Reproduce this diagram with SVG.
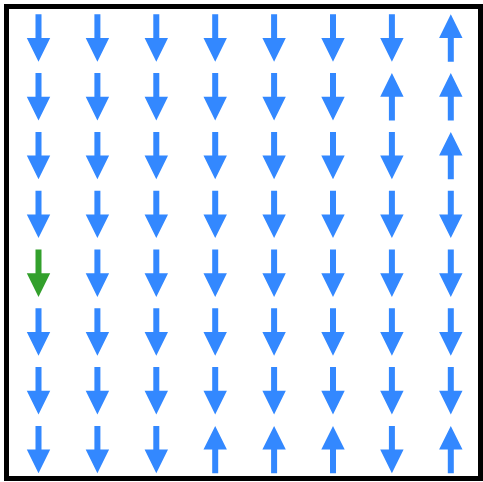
<svg xmlns="http://www.w3.org/2000/svg" xmlns:xlink="http://www.w3.org/1999/xlink" width="483" height="482" viewBox="0 0 483 482">
<style>
.b{fill:#3388ff}
.g{fill:#33a02c}
</style>
<defs>
<path id="d" d="M-3,-23.7 H3 V0 H11.7 L0,23.7 L-11.7,0 H-3 Z"/>
</defs>
<rect x="0" y="0" width="483" height="482" fill="#ffffff"/>
<rect x="6.5" y="6.5" width="474" height="472" fill="#ffffff" stroke="#000000" stroke-width="5"/>
<g id="arrows">
<g id="row0">
<use href="#d" class="b" transform="translate(38.5,38)"/>
<use href="#d" class="b" transform="translate(97.4,38)"/>
<use href="#d" class="b" transform="translate(156.3,38)"/>
<use href="#d" class="b" transform="translate(215.2,38)"/>
<use href="#d" class="b" transform="translate(274.1,38)"/>
<use href="#d" class="b" transform="translate(333,38)"/>
<use href="#d" class="b" transform="translate(391.9,38)"/>
<use href="#d" class="b" transform="translate(450.8,38) rotate(180)"/>
</g>
<g id="row1">
<use href="#d" class="b" transform="translate(38.5,96.8)"/>
<use href="#d" class="b" transform="translate(97.4,96.8)"/>
<use href="#d" class="b" transform="translate(156.3,96.8)"/>
<use href="#d" class="b" transform="translate(215.2,96.8)"/>
<use href="#d" class="b" transform="translate(274.1,96.8)"/>
<use href="#d" class="b" transform="translate(333,96.8)"/>
<use href="#d" class="b" transform="translate(391.9,96.8) rotate(180)"/>
<use href="#d" class="b" transform="translate(450.8,96.8) rotate(180)"/>
</g>
<g id="row2">
<use href="#d" class="b" transform="translate(38.5,155.6)"/>
<use href="#d" class="b" transform="translate(97.4,155.6)"/>
<use href="#d" class="b" transform="translate(156.3,155.6)"/>
<use href="#d" class="b" transform="translate(215.2,155.6)"/>
<use href="#d" class="b" transform="translate(274.1,155.6)"/>
<use href="#d" class="b" transform="translate(333,155.6)"/>
<use href="#d" class="b" transform="translate(391.9,155.6)"/>
<use href="#d" class="b" transform="translate(450.8,155.6) rotate(180)"/>
</g>
<g id="row3">
<use href="#d" class="b" transform="translate(38.5,214.4)"/>
<use href="#d" class="b" transform="translate(97.4,214.4)"/>
<use href="#d" class="b" transform="translate(156.3,214.4)"/>
<use href="#d" class="b" transform="translate(215.2,214.4)"/>
<use href="#d" class="b" transform="translate(274.1,214.4)"/>
<use href="#d" class="b" transform="translate(333,214.4)"/>
<use href="#d" class="b" transform="translate(391.9,214.4)"/>
<use href="#d" class="b" transform="translate(450.8,214.4)"/>
</g>
<g id="row4">
<use href="#d" class="g" transform="translate(38.5,273.2)"/>
<use href="#d" class="b" transform="translate(97.4,273.2)"/>
<use href="#d" class="b" transform="translate(156.3,273.2)"/>
<use href="#d" class="b" transform="translate(215.2,273.2)"/>
<use href="#d" class="b" transform="translate(274.1,273.2)"/>
<use href="#d" class="b" transform="translate(333,273.2)"/>
<use href="#d" class="b" transform="translate(391.9,273.2)"/>
<use href="#d" class="b" transform="translate(450.8,273.2)"/>
</g>
<g id="row5">
<use href="#d" class="b" transform="translate(38.5,332)"/>
<use href="#d" class="b" transform="translate(97.4,332)"/>
<use href="#d" class="b" transform="translate(156.3,332)"/>
<use href="#d" class="b" transform="translate(215.2,332)"/>
<use href="#d" class="b" transform="translate(274.1,332)"/>
<use href="#d" class="b" transform="translate(333,332)"/>
<use href="#d" class="b" transform="translate(391.9,332)"/>
<use href="#d" class="b" transform="translate(450.8,332)"/>
</g>
<g id="row6">
<use href="#d" class="b" transform="translate(38.5,390.8)"/>
<use href="#d" class="b" transform="translate(97.4,390.8)"/>
<use href="#d" class="b" transform="translate(156.3,390.8)"/>
<use href="#d" class="b" transform="translate(215.2,390.8)"/>
<use href="#d" class="b" transform="translate(274.1,390.8)"/>
<use href="#d" class="b" transform="translate(333,390.8)"/>
<use href="#d" class="b" transform="translate(391.9,390.8)"/>
<use href="#d" class="b" transform="translate(450.8,390.8)"/>
</g>
<g id="row7">
<use href="#d" class="b" transform="translate(38.5,449.6)"/>
<use href="#d" class="b" transform="translate(97.4,449.6)"/>
<use href="#d" class="b" transform="translate(156.3,449.6)"/>
<use href="#d" class="b" transform="translate(215.2,449.6) rotate(180)"/>
<use href="#d" class="b" transform="translate(274.1,449.6) rotate(180)"/>
<use href="#d" class="b" transform="translate(333,449.6) rotate(180)"/>
<use href="#d" class="b" transform="translate(391.9,449.6)"/>
<use href="#d" class="b" transform="translate(450.8,449.6) rotate(180)"/>
</g>
</g>
</svg>
